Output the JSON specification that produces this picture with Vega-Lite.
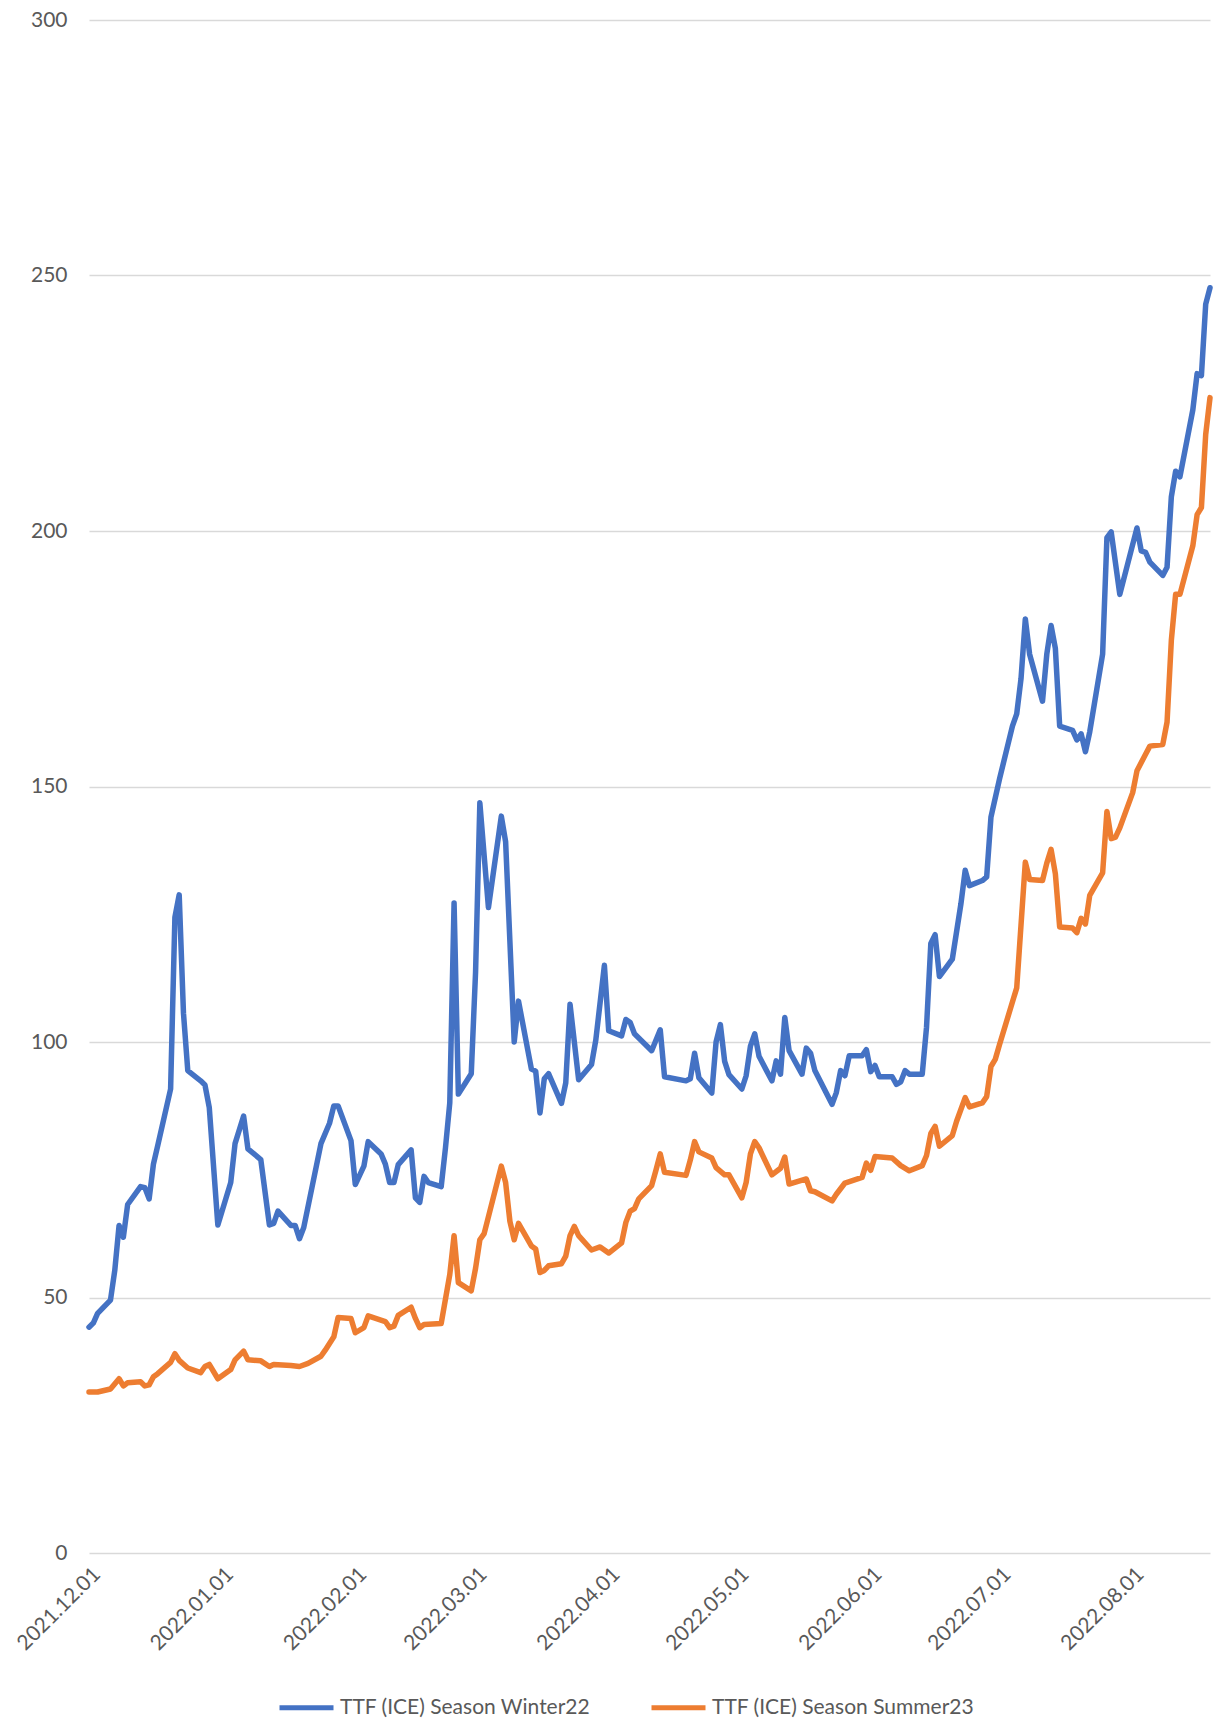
{
  "$schema": "https://vega.github.io/schema/vega-lite/v6.json",
  "width": 1121,
  "height": 1533,
  "autosize": {"type": "none"},
  "padding": {"left": 89, "top": 20, "right": 6, "bottom": 167},
  "background": "white",
  "config": {"view": {"stroke": null}, "font": "Lato"},
  "data": {"values": [
    {"d":"2021-12-01","s":"Winter22","v":44.2},{"d":"2021-12-02","s":"Winter22","v":45.0},{"d":"2021-12-03","s":"Winter22","v":46.9},
    {"d":"2021-12-06","s":"Winter22","v":49.5},{"d":"2021-12-07","s":"Winter22","v":55.3},{"d":"2021-12-08","s":"Winter22","v":64.1},
    {"d":"2021-12-09","s":"Winter22","v":61.8},{"d":"2021-12-10","s":"Winter22","v":68.2},{"d":"2021-12-13","s":"Winter22","v":71.7},
    {"d":"2021-12-14","s":"Winter22","v":71.5},{"d":"2021-12-15","s":"Winter22","v":69.3},{"d":"2021-12-16","s":"Winter22","v":76.1},
    {"d":"2021-12-17","s":"Winter22","v":79.7},{"d":"2021-12-20","s":"Winter22","v":90.8},{"d":"2021-12-21","s":"Winter22","v":124.4},
    {"d":"2021-12-22","s":"Winter22","v":128.8},{"d":"2021-12-23","s":"Winter22","v":105.6},{"d":"2021-12-24","s":"Winter22","v":94.4},
    {"d":"2021-12-27","s":"Winter22","v":92.4},{"d":"2021-12-28","s":"Winter22","v":91.6},{"d":"2021-12-29","s":"Winter22","v":87.2},
    {"d":"2021-12-31","s":"Winter22","v":64.2},{"d":"2022-01-03","s":"Winter22","v":72.5},{"d":"2022-01-04","s":"Winter22","v":80.1},
    {"d":"2022-01-06","s":"Winter22","v":85.5},{"d":"2022-01-07","s":"Winter22","v":79.1},{"d":"2022-01-10","s":"Winter22","v":77.0},
    {"d":"2022-01-12","s":"Winter22","v":64.2},{"d":"2022-01-13","s":"Winter22","v":64.5},{"d":"2022-01-14","s":"Winter22","v":66.9},
    {"d":"2022-01-17","s":"Winter22","v":64.1},{"d":"2022-01-18","s":"Winter22","v":64.1},{"d":"2022-01-19","s":"Winter22","v":61.5},
    {"d":"2022-01-20","s":"Winter22","v":63.7},{"d":"2022-01-24","s":"Winter22","v":80.1},{"d":"2022-01-26","s":"Winter22","v":84.1},
    {"d":"2022-01-27","s":"Winter22","v":87.5},{"d":"2022-01-28","s":"Winter22","v":87.5},{"d":"2022-01-31","s":"Winter22","v":80.7},
    {"d":"2022-02-01","s":"Winter22","v":72.1},{"d":"2022-02-03","s":"Winter22","v":75.7},{"d":"2022-02-04","s":"Winter22","v":80.5},
    {"d":"2022-02-07","s":"Winter22","v":78.1},{"d":"2022-02-08","s":"Winter22","v":76.1},{"d":"2022-02-09","s":"Winter22","v":72.5},
    {"d":"2022-02-10","s":"Winter22","v":72.5},{"d":"2022-02-11","s":"Winter22","v":76.0},{"d":"2022-02-14","s":"Winter22","v":78.9},
    {"d":"2022-02-15","s":"Winter22","v":69.5},{"d":"2022-02-16","s":"Winter22","v":68.6},{"d":"2022-02-17","s":"Winter22","v":73.7},
    {"d":"2022-02-18","s":"Winter22","v":72.5},{"d":"2022-02-21","s":"Winter22","v":71.7},{"d":"2022-02-22","s":"Winter22","v":79.3},
    {"d":"2022-02-23","s":"Winter22","v":88.1},{"d":"2022-02-24","s":"Winter22","v":127.2},{"d":"2022-02-25","s":"Winter22","v":89.8},
    {"d":"2022-02-28","s":"Winter22","v":93.8},{"d":"2022-03-01","s":"Winter22","v":113.6},{"d":"2022-03-02","s":"Winter22","v":146.8},
    {"d":"2022-03-04","s":"Winter22","v":126.3},{"d":"2022-03-07","s":"Winter22","v":144.2},{"d":"2022-03-08","s":"Winter22","v":139.2},
    {"d":"2022-03-10","s":"Winter22","v":100.0},{"d":"2022-03-11","s":"Winter22","v":108.0},{"d":"2022-03-14","s":"Winter22","v":94.7},
    {"d":"2022-03-15","s":"Winter22","v":94.3},{"d":"2022-03-16","s":"Winter22","v":86.1},{"d":"2022-03-17","s":"Winter22","v":92.8},
    {"d":"2022-03-18","s":"Winter22","v":93.8},{"d":"2022-03-21","s":"Winter22","v":88.0},{"d":"2022-03-22","s":"Winter22","v":92.0},
    {"d":"2022-03-23","s":"Winter22","v":107.4},{"d":"2022-03-25","s":"Winter22","v":92.6},{"d":"2022-03-28","s":"Winter22","v":95.6},
    {"d":"2022-03-29","s":"Winter22","v":100.4},{"d":"2022-03-31","s":"Winter22","v":115.0},{"d":"2022-04-01","s":"Winter22","v":102.2},
    {"d":"2022-04-04","s":"Winter22","v":101.2},{"d":"2022-04-05","s":"Winter22","v":104.4},{"d":"2022-04-06","s":"Winter22","v":103.8},
    {"d":"2022-04-07","s":"Winter22","v":101.6},{"d":"2022-04-08","s":"Winter22","v":100.8},{"d":"2022-04-11","s":"Winter22","v":98.3},
    {"d":"2022-04-13","s":"Winter22","v":102.4},{"d":"2022-04-14","s":"Winter22","v":93.2},{"d":"2022-04-19","s":"Winter22","v":92.4},
    {"d":"2022-04-20","s":"Winter22","v":92.8},{"d":"2022-04-21","s":"Winter22","v":97.8},{"d":"2022-04-22","s":"Winter22","v":93.0},
    {"d":"2022-04-25","s":"Winter22","v":90.0},{"d":"2022-04-26","s":"Winter22","v":100.0},{"d":"2022-04-27","s":"Winter22","v":103.4},
    {"d":"2022-04-28","s":"Winter22","v":96.2},{"d":"2022-04-29","s":"Winter22","v":93.6},{"d":"2022-05-02","s":"Winter22","v":90.8},
    {"d":"2022-05-03","s":"Winter22","v":93.4},{"d":"2022-05-04","s":"Winter22","v":99.2},{"d":"2022-05-05","s":"Winter22","v":101.6},
    {"d":"2022-05-06","s":"Winter22","v":97.2},{"d":"2022-05-09","s":"Winter22","v":92.4},{"d":"2022-05-10","s":"Winter22","v":96.3},
    {"d":"2022-05-11","s":"Winter22","v":93.7},{"d":"2022-05-12","s":"Winter22","v":104.8},{"d":"2022-05-13","s":"Winter22","v":98.3},
    {"d":"2022-05-16","s":"Winter22","v":93.7},{"d":"2022-05-17","s":"Winter22","v":98.8},{"d":"2022-05-18","s":"Winter22","v":97.8},
    {"d":"2022-05-19","s":"Winter22","v":94.4},{"d":"2022-05-23","s":"Winter22","v":87.8},{"d":"2022-05-24","s":"Winter22","v":90.1},
    {"d":"2022-05-25","s":"Winter22","v":94.4},{"d":"2022-05-26","s":"Winter22","v":93.4},{"d":"2022-05-27","s":"Winter22","v":97.3},
    {"d":"2022-05-30","s":"Winter22","v":97.3},{"d":"2022-05-31","s":"Winter22","v":98.5},{"d":"2022-06-01","s":"Winter22","v":94.2},
    {"d":"2022-06-02","s":"Winter22","v":95.4},{"d":"2022-06-03","s":"Winter22","v":93.2},{"d":"2022-06-06","s":"Winter22","v":93.2},
    {"d":"2022-06-07","s":"Winter22","v":91.7},{"d":"2022-06-08","s":"Winter22","v":92.2},{"d":"2022-06-09","s":"Winter22","v":94.4},
    {"d":"2022-06-10","s":"Winter22","v":93.7},{"d":"2022-06-13","s":"Winter22","v":93.7},{"d":"2022-06-14","s":"Winter22","v":102.9},
    {"d":"2022-06-15","s":"Winter22","v":119.3},{"d":"2022-06-16","s":"Winter22","v":121.0},{"d":"2022-06-17","s":"Winter22","v":112.8},
    {"d":"2022-06-20","s":"Winter22","v":116.2},{"d":"2022-06-22","s":"Winter22","v":127.0},{"d":"2022-06-23","s":"Winter22","v":133.6},
    {"d":"2022-06-24","s":"Winter22","v":130.6},{"d":"2022-06-27","s":"Winter22","v":131.6},{"d":"2022-06-28","s":"Winter22","v":132.3},
    {"d":"2022-06-29","s":"Winter22","v":144.0},{"d":"2022-07-01","s":"Winter22","v":151.5},{"d":"2022-07-04","s":"Winter22","v":161.8},
    {"d":"2022-07-05","s":"Winter22","v":164.2},{"d":"2022-07-06","s":"Winter22","v":171.1},{"d":"2022-07-07","s":"Winter22","v":182.8},
    {"d":"2022-07-08","s":"Winter22","v":175.9},{"d":"2022-07-11","s":"Winter22","v":166.7},{"d":"2022-07-12","s":"Winter22","v":175.9},
    {"d":"2022-07-13","s":"Winter22","v":181.5},{"d":"2022-07-14","s":"Winter22","v":177.0},{"d":"2022-07-15","s":"Winter22","v":161.8},
    {"d":"2022-07-18","s":"Winter22","v":161.0},{"d":"2022-07-19","s":"Winter22","v":159.1},{"d":"2022-07-20","s":"Winter22","v":160.3},
    {"d":"2022-07-21","s":"Winter22","v":156.8},{"d":"2022-07-22","s":"Winter22","v":160.7},{"d":"2022-07-25","s":"Winter22","v":175.9},
    {"d":"2022-07-26","s":"Winter22","v":198.7},{"d":"2022-07-27","s":"Winter22","v":199.8},{"d":"2022-07-29","s":"Winter22","v":187.6},
    {"d":"2022-08-02","s":"Winter22","v":200.6},{"d":"2022-08-03","s":"Winter22","v":196.1},{"d":"2022-08-04","s":"Winter22","v":195.8},
    {"d":"2022-08-05","s":"Winter22","v":193.9},{"d":"2022-08-08","s":"Winter22","v":191.3},{"d":"2022-08-09","s":"Winter22","v":192.9},
    {"d":"2022-08-10","s":"Winter22","v":206.7},{"d":"2022-08-11","s":"Winter22","v":211.7},{"d":"2022-08-12","s":"Winter22","v":210.6},
    {"d":"2022-08-15","s":"Winter22","v":223.7},{"d":"2022-08-16","s":"Winter22","v":230.8},{"d":"2022-08-17","s":"Winter22","v":230.4},
    {"d":"2022-08-18","s":"Winter22","v":244.4},{"d":"2022-08-19","s":"Winter22","v":247.6},

    {"d":"2021-12-01","s":"Summer23","v":31.5},{"d":"2021-12-03","s":"Summer23","v":31.5},{"d":"2021-12-06","s":"Summer23","v":32.1},
    {"d":"2021-12-08","s":"Summer23","v":34.1},{"d":"2021-12-09","s":"Summer23","v":32.7},{"d":"2021-12-10","s":"Summer23","v":33.3},
    {"d":"2021-12-13","s":"Summer23","v":33.5},{"d":"2021-12-14","s":"Summer23","v":32.7},{"d":"2021-12-15","s":"Summer23","v":32.9},
    {"d":"2021-12-16","s":"Summer23","v":34.5},{"d":"2021-12-17","s":"Summer23","v":35.1},{"d":"2021-12-20","s":"Summer23","v":37.3},
    {"d":"2021-12-21","s":"Summer23","v":39.0},{"d":"2021-12-22","s":"Summer23","v":37.7},{"d":"2021-12-24","s":"Summer23","v":36.2},
    {"d":"2021-12-27","s":"Summer23","v":35.3},{"d":"2021-12-28","s":"Summer23","v":36.5},{"d":"2021-12-29","s":"Summer23","v":36.9},
    {"d":"2021-12-31","s":"Summer23","v":34.1},{"d":"2022-01-03","s":"Summer23","v":35.9},{"d":"2022-01-04","s":"Summer23","v":37.8},
    {"d":"2022-01-06","s":"Summer23","v":39.5},{"d":"2022-01-07","s":"Summer23","v":37.8},{"d":"2022-01-10","s":"Summer23","v":37.6},
    {"d":"2022-01-12","s":"Summer23","v":36.5},{"d":"2022-01-13","s":"Summer23","v":36.9},{"d":"2022-01-17","s":"Summer23","v":36.7},
    {"d":"2022-01-19","s":"Summer23","v":36.5},{"d":"2022-01-21","s":"Summer23","v":37.1},{"d":"2022-01-24","s":"Summer23","v":38.5},
    {"d":"2022-01-25","s":"Summer23","v":39.7},{"d":"2022-01-27","s":"Summer23","v":42.3},{"d":"2022-01-28","s":"Summer23","v":46.1},
    {"d":"2022-01-31","s":"Summer23","v":45.9},{"d":"2022-02-01","s":"Summer23","v":43.1},{"d":"2022-02-03","s":"Summer23","v":44.1},
    {"d":"2022-02-04","s":"Summer23","v":46.4},{"d":"2022-02-08","s":"Summer23","v":45.3},{"d":"2022-02-09","s":"Summer23","v":44.1},
    {"d":"2022-02-10","s":"Summer23","v":44.4},{"d":"2022-02-11","s":"Summer23","v":46.5},{"d":"2022-02-14","s":"Summer23","v":48.1},
    {"d":"2022-02-15","s":"Summer23","v":45.9},{"d":"2022-02-16","s":"Summer23","v":44.1},{"d":"2022-02-17","s":"Summer23","v":44.7},
    {"d":"2022-02-21","s":"Summer23","v":44.9},{"d":"2022-02-23","s":"Summer23","v":54.5},{"d":"2022-02-24","s":"Summer23","v":62.1},
    {"d":"2022-02-25","s":"Summer23","v":52.9},{"d":"2022-02-28","s":"Summer23","v":51.3},{"d":"2022-03-01","s":"Summer23","v":55.7},
    {"d":"2022-03-02","s":"Summer23","v":61.3},{"d":"2022-03-03","s":"Summer23","v":62.5},{"d":"2022-03-07","s":"Summer23","v":75.7},
    {"d":"2022-03-08","s":"Summer23","v":72.5},{"d":"2022-03-09","s":"Summer23","v":64.9},{"d":"2022-03-10","s":"Summer23","v":61.3},
    {"d":"2022-03-11","s":"Summer23","v":64.5},{"d":"2022-03-14","s":"Summer23","v":60.1},{"d":"2022-03-15","s":"Summer23","v":59.5},
    {"d":"2022-03-16","s":"Summer23","v":54.9},{"d":"2022-03-17","s":"Summer23","v":55.3},{"d":"2022-03-18","s":"Summer23","v":56.2},
    {"d":"2022-03-21","s":"Summer23","v":56.6},{"d":"2022-03-22","s":"Summer23","v":58.1},{"d":"2022-03-23","s":"Summer23","v":62.1},
    {"d":"2022-03-24","s":"Summer23","v":63.9},{"d":"2022-03-25","s":"Summer23","v":62.1},{"d":"2022-03-28","s":"Summer23","v":59.3},
    {"d":"2022-03-30","s":"Summer23","v":59.9},{"d":"2022-04-01","s":"Summer23","v":58.7},{"d":"2022-04-04","s":"Summer23","v":60.7},
    {"d":"2022-04-05","s":"Summer23","v":64.7},{"d":"2022-04-06","s":"Summer23","v":66.9},{"d":"2022-04-07","s":"Summer23","v":67.4},
    {"d":"2022-04-08","s":"Summer23","v":69.3},{"d":"2022-04-11","s":"Summer23","v":71.9},{"d":"2022-04-12","s":"Summer23","v":74.9},
    {"d":"2022-04-13","s":"Summer23","v":78.1},{"d":"2022-04-14","s":"Summer23","v":74.5},{"d":"2022-04-19","s":"Summer23","v":73.9},
    {"d":"2022-04-20","s":"Summer23","v":76.9},{"d":"2022-04-21","s":"Summer23","v":80.5},{"d":"2022-04-22","s":"Summer23","v":78.5},
    {"d":"2022-04-25","s":"Summer23","v":77.3},{"d":"2022-04-26","s":"Summer23","v":75.4},{"d":"2022-04-28","s":"Summer23","v":74.0},
    {"d":"2022-04-29","s":"Summer23","v":74.0},{"d":"2022-05-02","s":"Summer23","v":69.5},{"d":"2022-05-03","s":"Summer23","v":72.5},
    {"d":"2022-05-04","s":"Summer23","v":78.1},{"d":"2022-05-05","s":"Summer23","v":80.5},{"d":"2022-05-06","s":"Summer23","v":79.3},
    {"d":"2022-05-09","s":"Summer23","v":74.0},{"d":"2022-05-11","s":"Summer23","v":75.3},{"d":"2022-05-12","s":"Summer23","v":77.5},
    {"d":"2022-05-13","s":"Summer23","v":72.2},{"d":"2022-05-17","s":"Summer23","v":73.2},{"d":"2022-05-18","s":"Summer23","v":70.9},
    {"d":"2022-05-19","s":"Summer23","v":70.7},{"d":"2022-05-23","s":"Summer23","v":68.9},{"d":"2022-05-24","s":"Summer23","v":70.2},
    {"d":"2022-05-26","s":"Summer23","v":72.4},{"d":"2022-05-30","s":"Summer23","v":73.5},{"d":"2022-05-31","s":"Summer23","v":76.3},
    {"d":"2022-06-01","s":"Summer23","v":74.9},{"d":"2022-06-02","s":"Summer23","v":77.6},{"d":"2022-06-06","s":"Summer23","v":77.3},
    {"d":"2022-06-08","s":"Summer23","v":75.8},{"d":"2022-06-10","s":"Summer23","v":74.8},{"d":"2022-06-13","s":"Summer23","v":75.8},
    {"d":"2022-06-14","s":"Summer23","v":77.8},{"d":"2022-06-15","s":"Summer23","v":82.1},{"d":"2022-06-16","s":"Summer23","v":83.5},
    {"d":"2022-06-17","s":"Summer23","v":79.6},{"d":"2022-06-20","s":"Summer23","v":81.7},{"d":"2022-06-21","s":"Summer23","v":84.5},
    {"d":"2022-06-23","s":"Summer23","v":89.1},{"d":"2022-06-24","s":"Summer23","v":87.3},{"d":"2022-06-27","s":"Summer23","v":88.1},
    {"d":"2022-06-28","s":"Summer23","v":89.3},{"d":"2022-06-29","s":"Summer23","v":95.2},{"d":"2022-06-30","s":"Summer23","v":96.6},
    {"d":"2022-07-01","s":"Summer23","v":99.5},{"d":"2022-07-05","s":"Summer23","v":110.6},{"d":"2022-07-07","s":"Summer23","v":135.2},
    {"d":"2022-07-08","s":"Summer23","v":131.8},{"d":"2022-07-11","s":"Summer23","v":131.6},{"d":"2022-07-12","s":"Summer23","v":135.0},
    {"d":"2022-07-13","s":"Summer23","v":137.7},{"d":"2022-07-14","s":"Summer23","v":132.9},{"d":"2022-07-15","s":"Summer23","v":122.5},
    {"d":"2022-07-18","s":"Summer23","v":122.3},{"d":"2022-07-19","s":"Summer23","v":121.4},{"d":"2022-07-20","s":"Summer23","v":124.2},
    {"d":"2022-07-21","s":"Summer23","v":123.1},{"d":"2022-07-22","s":"Summer23","v":128.7},{"d":"2022-07-25","s":"Summer23","v":133.1},
    {"d":"2022-07-26","s":"Summer23","v":145.1},{"d":"2022-07-27","s":"Summer23","v":139.8},{"d":"2022-07-28","s":"Summer23","v":140.1},
    {"d":"2022-07-29","s":"Summer23","v":141.9},{"d":"2022-08-01","s":"Summer23","v":148.8},{"d":"2022-08-02","s":"Summer23","v":153.1},
    {"d":"2022-08-04","s":"Summer23","v":156.3},{"d":"2022-08-05","s":"Summer23","v":157.9},{"d":"2022-08-08","s":"Summer23","v":158.2},
    {"d":"2022-08-09","s":"Summer23","v":162.6},{"d":"2022-08-10","s":"Summer23","v":178.6},{"d":"2022-08-11","s":"Summer23","v":187.6},
    {"d":"2022-08-12","s":"Summer23","v":187.6},{"d":"2022-08-15","s":"Summer23","v":197.1},{"d":"2022-08-16","s":"Summer23","v":203.2},
    {"d":"2022-08-17","s":"Summer23","v":204.6},{"d":"2022-08-18","s":"Summer23","v":218.9},{"d":"2022-08-19","s":"Summer23","v":226.1}
  ]},
  "mark": {"type": "line", "strokeWidth": 5.5, "strokeJoin": "round", "strokeCap": "round"},
  "encoding": {
    "x": {
      "field": "d", "type": "temporal",
      "scale": {"type": "utc", "domain": [{"year": 2021, "month": 12, "date": 1, "utc": true}, {"year": 2022, "month": 8, "date": 19, "utc": true}]},
      "axis": {
        "title": null, "grid": false, "domain": false, "ticks": false,
        "values": [
          {"year": 2021, "month": 12, "date": 1, "utc": true},
          {"year": 2022, "month": 1, "date": 1, "utc": true},
          {"year": 2022, "month": 2, "date": 1, "utc": true},
          {"year": 2022, "month": 3, "date": 1, "utc": true},
          {"year": 2022, "month": 4, "date": 1, "utc": true},
          {"year": 2022, "month": 5, "date": 1, "utc": true},
          {"year": 2022, "month": 6, "date": 1, "utc": true},
          {"year": 2022, "month": 7, "date": 1, "utc": true},
          {"year": 2022, "month": 8, "date": 1, "utc": true}
        ],
        "labelExpr": "utcFormat(datum.value, '%Y.%m.%d')",
        "labelAngle": -45, "labelFontSize": 21, "labelColor": "#595959", "labelPadding": 10,
        "labelOverlap": false, "labelBound": false, "labelFlush": false
      }
    },
    "y": {
      "field": "v", "type": "quantitative",
      "scale": {"domain": [0, 300], "nice": false, "zero": true},
      "axis": {
        "title": null, "domain": false, "ticks": false,
        "values": [0, 50, 100, 150, 200, 250, 300],
        "gridColor": "#d9d9d9", "gridWidth": 1.5,
        "labelFontSize": 21, "labelColor": "#595959", "labelPadding": 22
      }
    },
    "color": {
      "field": "s", "type": "nominal",
      "scale": {"domain": ["Winter22", "Summer23"], "range": ["#4472C4", "#ED7D31"]},
      "legend": {
        "title": null, "orient": "none", "legendX": 188, "legendY": 1658,
        "direction": "horizontal", "symbolType": "stroke", "symbolSize": 2916, "symbolStrokeWidth": 5,
        "labelFontSize": 21, "labelColor": "#595959", "labelOffset": 4, "columnPadding": 50, "labelLimit": 400,
        "labelExpr": "'TTF (ICE) Season ' + datum.label"
      }
    }
  }
}
